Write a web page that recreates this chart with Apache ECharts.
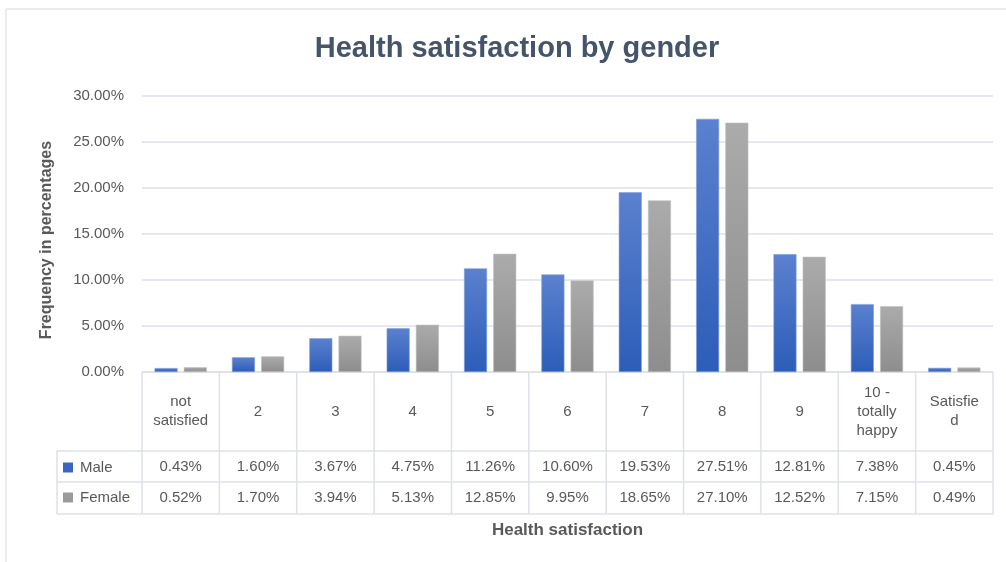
<!DOCTYPE html>
<html>
<head>
<meta charset="utf-8">
<script src="https://cdn.jsdelivr.net/npm/echarts@6/dist/echarts.min.js"></script>
<style>
  html, body { margin: 0; padding: 0; background: #ffffff; }
  #chart { width: 1006px; height: 562px; }
</style>
</head>
<body>
<div id="chart"></div>
<script>
// Health satisfaction scores, share of respondents (%) by gender
const categories = ['not satisfied', '2', '3', '4', '5', '6', '7', '8', '9', '10 - totally happy', 'Satisfied'];
const categoryLines = ['not\nsatisfied', '2', '3', '4', '5', '6', '7', '8', '9', '10 -\ntotally\nhappy', 'Satisfie\nd'];
const maleValues = [0.43, 1.60, 3.67, 4.75, 11.26, 10.60, 19.53, 27.51, 12.81, 7.38, 0.45];
const femaleValues = [0.52, 1.70, 3.94, 5.13, 12.85, 9.95, 18.65, 27.10, 12.52, 7.15, 0.49];
const yTicks = { min: 0, max: 30, interval: 5 };

const FONT = "'Liberation Sans', Arial, sans-serif";
const TEXT = '#595959';
const LINE = '#dde1e8';

// plot area in pixels; the data table sits directly below it
const G = { left: 142, right: 13, top: 96, bottom: 190 };
const W = 1006, H = 562;
const plotRight = W - G.right;
const axisY = H - G.bottom;
const colW = (plotRight - G.left) / categories.length;
const rowHeader = 451, rowMale = 482, rowFemale = 514, tableLeft = 57;

const fmt = v => v.toFixed(2) + '%';

// table rules
const tableLines = [];
const hl = (x1, y, x2) => tableLines.push({ type: 'line', silent: true, shape: { x1, y1: y, x2, y2: y }, style: { stroke: LINE, lineWidth: 1.5 } });
const vl = (x, y1, y2) => tableLines.push({ type: 'line', silent: true, shape: { x1: x, y1, x2: x, y2 }, style: { stroke: LINE, lineWidth: 1.5 } });
hl(tableLeft, rowHeader, plotRight);
hl(tableLeft, rowMale, plotRight);
hl(tableLeft, rowFemale, plotRight);
vl(tableLeft, rowHeader, rowFemale);
for (let i = 0; i <= categories.length; i++) vl(G.left + i * colW, axisY, rowFemale);

const barGradient = (top, bottom) => new echarts.graphic.LinearGradient(0, 0, 0, 1, [
  { offset: 0, color: top }, { offset: 1, color: bottom }
]);

const tableAxis = (labels, centerY) => ({
  type: 'category',
  gridIndex: 0,
  position: 'bottom',
  data: labels,
  axisLine: { show: false },
  axisTick: { show: false },
  axisLabel: {
    interval: 0, margin: centerY - axisY, verticalAlign: 'middle',
    color: TEXT, fontFamily: FONT, fontSize: 15
  }
});

const chart = echarts.init(document.getElementById('chart'), null, { renderer: 'canvas' });
chart.setOption({
  backgroundColor: '#ffffff',
  animation: false,
  title: {
    text: 'Health satisfaction by gender',
    left: 512, top: 29, textAlign: 'center',
    textStyle: { color: '#44546a', fontFamily: FONT, fontSize: 29, fontWeight: 'bold' }
  },
  legend: {
    orient: 'vertical', left: 58, top: 455, itemGap: 15,
    icon: 'rect', itemWidth: 10, itemHeight: 10,
    itemStyle: { borderWidth: 0 },
    textStyle: { color: TEXT, fontFamily: FONT, fontSize: 15, padding: [0, 0, 0, 2] },
    data: [
      { name: 'Male', itemStyle: { color: '#3a66c0', borderWidth: 0 } },
      { name: 'Female', itemStyle: { color: '#9a9a9a', borderWidth: 0 } }
    ]
  },
  grid: { left: G.left, right: G.right, top: G.top, bottom: G.bottom, containLabel: false },
  xAxis: [
    {
      type: 'category',
      data: categories,
      name: 'Health satisfaction',
      nameLocation: 'middle', nameGap: 150,
      nameTextStyle: { color: TEXT, fontFamily: FONT, fontSize: 17, fontWeight: 'bold' },
      axisLine: { lineStyle: { color: LINE, width: 1.5 } },
      axisTick: { show: false },
      axisLabel: {
        interval: 0, margin: (axisY + rowHeader) / 2 - axisY, verticalAlign: 'middle',
        lineHeight: 19, color: TEXT, fontFamily: FONT, fontSize: 15,
        formatter: (v, i) => categoryLines[i]
      }
    },
    tableAxis(maleValues.map(fmt), (rowHeader + rowMale) / 2),
    tableAxis(femaleValues.map(fmt), (rowMale + rowFemale) / 2)
  ],
  yAxis: {
    type: 'value',
    min: yTicks.min, max: yTicks.max, interval: yTicks.interval,
    name: 'Frequency in percentages',
    nameLocation: 'middle', nameGap: 87, nameRotate: 90,
    nameTextStyle: { color: TEXT, fontFamily: FONT, fontSize: 16, fontWeight: 'bold', padding: [0, 12, 0, 0] },
    axisLine: { show: false },
    axisTick: { show: false },
    axisLabel: { color: TEXT, fontFamily: FONT, fontSize: 15, margin: 18, formatter: fmt },
    splitLine: { lineStyle: { color: LINE, width: 1.5 } }
  },
  series: [
    {
      name: 'Male', type: 'bar', data: maleValues,
      barWidth: 23, barGap: '27%',
      itemStyle: { color: barGradient('#5b81cf', '#2c5db8'), borderColor: '#7f9edb', borderWidth: 0.6 }
    },
    {
      name: 'Female', type: 'bar', data: femaleValues,
      barWidth: 23, barGap: '27%',
      itemStyle: { color: barGradient('#ababab', '#8d8d8d'), borderColor: '#c0c0c0', borderWidth: 0.6 }
    }
  ],
  graphic: [
    { type: 'rect', silent: true, z: -1, shape: { x: 6, y: 9, width: 1010, height: 560 }, style: { fill: 'none', stroke: '#d9d9d9', lineWidth: 1 } },
    ...tableLines
  ]
});
</script>
</body>
</html>
